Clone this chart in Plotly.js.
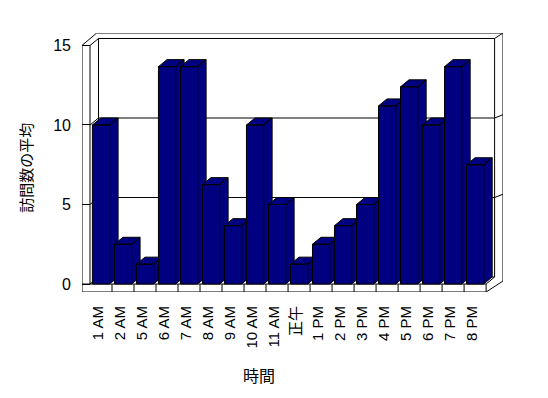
<!DOCTYPE html>
<html>
<head>
<meta charset="utf-8">
<script src="https://cdn.plot.ly/plotly-3.0.1.min.js"></script>
<style>html,body{margin:0;padding:0;background:#fff;}#chart{width:548px;height:398px;}</style>
</head>
<body>
<div id="chart"></div>
<script>
// ---- data ----
const categories = ['1 AM','2 AM','5 AM','6 AM','7 AM','8 AM','9 AM','10 AM','11 AM','正午','1 PM','2 PM','3 PM','4 PM','5 PM','6 PM','7 PM','8 PM'];
const visits = [10, 2.5, 1.25, 13.67, 13.67, 6.25, 3.67, 10, 5, 1.25, 2.5, 3.67, 5, 11.2, 12.4, 10, 13.67, 7.5];
const yTickVals = [0, 5, 10, 15];
const yTitle = '訪問数の平均';
const xTitle = '時間';

// ---- geometry (style) ----
const W = 548, H = 398;
const PXX = 22;          // px per category
const PXY = 239 / 15;    // px per unit
const BW = 0.78;         // bar width (category units)
const DX = 8.5 / PXX, DY = 7 / PXY;     // depth offset
const TW = 8 / PXX, TH = 8 / PXY;       // wall / floor thickness
const OX = 8.4 / PXX, OY = 5.5 / PXY;   // back wall thickness
const LABEL_SHIFT = -3 / PXX;           // tick label horizontal nudge
const xF0 = -0.5, xF1 = categories.length - 0.5, yTop = yTickVals[yTickVals.length - 1];
const xr = [xF0 - TW, xF1 + DX + OX];
const yr = [-TH, yTop + DY + OY];
const mL = 82, mT = 33;
const plotW = (xr[1] - xr[0]) * PXX, plotH = (yr[1] - yr[0]) * PXY;
const mR = W - mL - plotW, mB = H - mT - plotH;
const xTL = xF0 - TW + 14.7 / PXX;
const yBR = 3 / PXY;

const NAVY = '#000080';
const FONT = 'Liberation Sans, "Noto Sans CJK JP", sans-serif';

// ---- bars as 3D prisms ----
const traces = categories.map((c, i) => {
  const v = visits[i], x0 = i - BW / 2, x1 = i + BW / 2;
  return {
    type: 'scatter', mode: 'lines', fill: 'toself', fillcolor: NAVY,
    line: {color: '#000', width: 1}, hoverinfo: 'skip', showlegend: false,
    x: [x0, x0, x1, x1, x0, null,
        x0, x1, x1 + DX, x0 + DX, x0, null,
        x1, x1 + DX, x1 + DX, x1, x1],
    y: [0, v, v, 0, 0, null,
        v, v, v + DY, v + DY, v, null,
        0, DY, v + DY, v, 0],
    name: c
  };
});

// ---- frame shapes ----
const shapes = [];
function L(x0, y0, x1, y1) {
  shapes.push({type: 'line', xref: 'x', yref: 'y', x0, y0, x1, y1, layer: 'below',
               line: {color: '#000', width: 1}});
}
// back wall plane
L(xF0 + DX, DY, xF0 + DX, yTop + DY);
L(xF0 + DX, yTop + DY, xF1 + DX, yTop + DY);
L(xF1 + DX, DY, xF1 + DX, yTop + DY);
L(xF0 + DX, DY, xF1 + DX, DY);
yTickVals.forEach(v => {
  if (v > 0 && v < yTop) {
    L(xF0 + DX, v + DY, xF1 + DX, v + DY);
    L(xF1 + DX, v + DY, xF1 + DX + OX, v + DY + OY * 0.6);
  }
  L(xF0, v, xF0 + DX, v + DY);
});
// back wall outer
L(xTL, yTop + DY + OY, xF1 + DX + OX, yTop + DY + OY);
L(xF1 + DX + OX, yBR, xF1 + DX + OX, yTop + DY + OY);
L(xF1 + DX, yTop + DY, xF1 + DX + OX, yTop + DY + OY);
L(xF1 + DX + OX, yBR, xF1, -TH);
L(xF1 + DX, DY, xF1, 0);
// left wall
L(xF0 - TW, -TH, xF0 - TW, yTop);
L(xF0, 0, xF0, yTop);
L(xF0 - TW, yTop, xF0, yTop);
L(xF0 - TW, yTop, xTL, yTop + DY + OY);
// floor
L(xF0 - TW, -TH, xF1, -TH);
L(xF0 - TW, 0, xF1, 0);
L(xF1, -TH, xF1, 0);
categories.forEach((c, i) => { if (i > 0) L(i - 0.5, -TH, i - 0.5, 0); });

const pxX = px => (px - mL) / plotW;
const pxY = py => (mT + plotH - py) / plotH;

const layout = {
  width: W, height: H,
  margin: {l: mL, r: mR, t: mT, b: mB, pad: 0},
  paper_bgcolor: '#fff', plot_bgcolor: '#fff',
  font: {family: FONT, color: '#000'},
  showlegend: false,
  xaxis: {
    range: xr, tickmode: 'array', tickvals: categories.map((c, i) => i + LABEL_SHIFT), ticktext: categories,
    tickangle: -90, showgrid: false, zeroline: false, showline: false, ticks: '',
    ticklabelstandoff: 10, tickfont: {size: 15, family: FONT}, fixedrange: true
  },
  yaxis: {
    range: yr, tickmode: 'array', tickvals: yTickVals, ticktext: yTickVals.map(String),
    showgrid: false, zeroline: false, showline: false,
    ticks: 'inside', ticklen: 8, tickcolor: '#000', tickwidth: 1,
    ticklabelstandoff: 10, tickfont: {size: 16, family: FONT}, fixedrange: true
  },
  shapes: shapes,
  annotations: [
    {text: yTitle, xref: 'paper', yref: 'paper', x: pxX(26), y: pxY(168), textangle: -90,
     showarrow: false, xanchor: 'center', yanchor: 'middle', font: {size: 15, family: '"Noto Sans CJK JP", sans-serif'}},
    {text: xTitle, xref: 'paper', yref: 'paper', x: pxX(259), y: pxY(376),
     showarrow: false, xanchor: 'center', yanchor: 'middle', font: {size: 16, family: '"Noto Sans CJK JP", sans-serif'}}
  ]
};

Plotly.newPlot('chart', traces, layout, {displayModeBar: false, staticPlot: true});
</script>
</body>
</html>
